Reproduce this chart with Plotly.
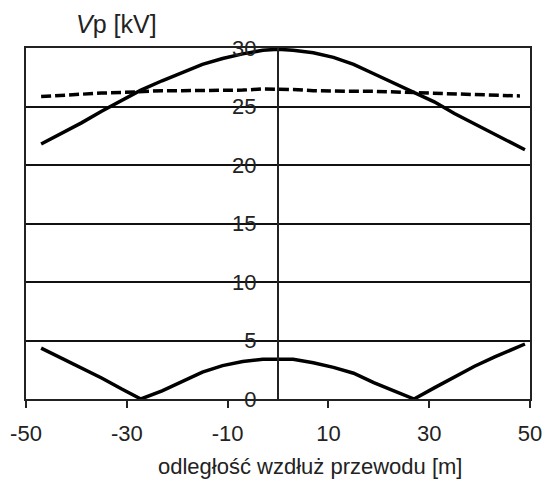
import plotly.graph_objects as go

# distance along the wire [m]
x_solid = [-47, -43, -39, -35, -31, -27.2, -23, -19, -15, -11, -7, -3, 0,
           3, 7, 11, 15, 19, 23, 27, 31, 35, 39, 43, 49]
upper_vals = [21.8, 22.7, 23.6, 24.6, 25.5, 26.4, 27.2, 27.9, 28.6, 29.1, 29.5, 29.8, 29.9,
              29.8, 29.6, 29.2, 28.6, 27.8, 27.0, 26.2, 25.4, 24.4, 23.5, 22.6, 21.3]
lower_vals = [4.35, 3.5, 2.7, 1.8, 0.85, 0.0, 0.7, 1.5, 2.3, 2.85, 3.2, 3.4, 3.4,
              3.4, 3.1, 2.7, 2.2, 1.4, 0.7, 0.0, 0.95, 1.9, 2.8, 3.6, 4.7]

x_dash = [-47, -43, -39, -35, -31, -27, -23, -19, -15, -11, -7, -3, 0,
          3, 7, 11, 15, 19, 23, 27, 31, 35, 39, 43, 48]
dash_vals = [25.85, 25.95, 26.1, 26.15, 26.2, 26.3, 26.35, 26.35, 26.35, 26.35, 26.4, 26.5, 26.5,
             26.45, 26.35, 26.3, 26.3, 26.3, 26.25, 26.2, 26.1, 26.05, 26.0, 25.95, 25.9]

x_ticks = [-50, -30, -10, 10, 30, 50]
x_tick_labels = ["-50", "-30", "-10", "10", "30", "50"]
y_ticks = [0, 5, 10, 15, 20, 25, 30]

FONT = "Liberation Sans, Arial, sans-serif"
TXT = "#222222"

fig = go.Figure()
fig.add_trace(go.Scatter(x=x_solid, y=upper_vals, mode="lines",
                         line=dict(color="black", width=3.5), showlegend=False))
fig.add_trace(go.Scatter(x=x_dash, y=dash_vals, mode="lines",
                         line=dict(color="black", width=3.5, dash="10px,4px"), showlegend=False))
fig.add_trace(go.Scatter(x=x_solid, y=lower_vals, mode="lines",
                         line=dict(color="black", width=3.5), showlegend=False))
# invisible trace to activate the frame axis
fig.add_trace(go.Scatter(x=[0], y=[0], yaxis="y2", mode="markers",
                         marker=dict(opacity=0), showlegend=False, hoverinfo="skip"))

fig.update_layout(
    width=545, height=483,
    margin=dict(l=26, r=15, t=48, b=84),
    paper_bgcolor="white", plot_bgcolor="white",
    font=dict(family=FONT, size=22, color=TXT),
    xaxis=dict(range=[-50, 50], tickvals=x_ticks, ticktext=x_tick_labels,
               ticks="outside", ticklen=7, automargin=False, ticklabelstandoff=7,
               tickwidth=2, tickcolor=TXT, showline=True, linecolor=TXT, linewidth=2,
               mirror=True, showgrid=False, zeroline=False,
               tickfont=dict(size=22, color=TXT, family=FONT)),
    yaxis=dict(range=[0, 30], tickvals=y_ticks, anchor="free", position=0.5,
               automargin=False,
               showgrid=True, gridcolor="#111111", gridwidth=2, zeroline=False,
               showline=True, linecolor=TXT, linewidth=2, ticks="",
               ticklabelstandoff=16,
               tickfont=dict(size=22, color=TXT, family=FONT)),
    yaxis2=dict(range=[0, 30], overlaying="y", anchor="x", side="left",
                automargin=False,
                showline=True, mirror=True, linecolor=TXT, linewidth=2,
                showticklabels=False, showgrid=False, zeroline=False, ticks=""),
    annotations=[
        dict(text="<i>V</i>p [kV]", xref="paper", yref="paper",
             x=(116 - 26) / 504, y=1 + (48 - 24) / 351, xanchor="center", yanchor="middle",
             showarrow=False, font=dict(size=25, color=TXT, family=FONT)),
        dict(text="odległość wzdłuż przewodu [m]", xref="paper", yref="paper",
             x=(310 - 26) / 504, y=-(467 - 399) / 351, xanchor="center", yanchor="middle",
             showarrow=False, font=dict(size=22, color=TXT, family=FONT)),
    ],
)

fig.write_html("out.html")
